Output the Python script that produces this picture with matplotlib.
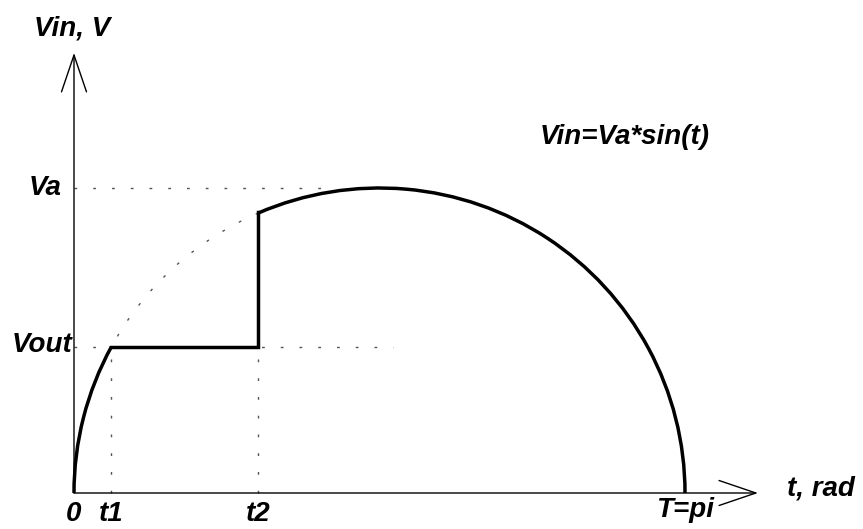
import numpy as np
import matplotlib
matplotlib.use("Agg")
import matplotlib.pyplot as plt
from matplotlib.patches import Arc

# values (t in rad, V in units of Va)
T = np.pi
t1, t2 = 0.19, 0.946
Va, Vout = 1.0, 0.48
Vt2 = 0.92                  # Vin at the moment t2
vaGuideEnd = 1.342          # where the Va guide line meets the curve
voutGuideEnd = 1.640        # end of the Vout guide line
xTip, yTip = 3.517, 1.443   # arrow tips of the axes

tickLabels = ["0", "t1", "t2", "T=pi"]
tickPos = [0.0, t1, t2, T]

font = dict(family="Liberation Sans", weight="bold", style="italic",
            size=20, color="black")
guide = dict(color="#555555", lw=1.0, dashes=(2, 11.5))
thick = 2.5

fig = plt.figure(figsize=(8.63, 5.29), dpi=100)
ax = fig.add_axes([0, 0, 1, 1])
ax.set_axis_off()

    # pixel mapping: x 74 -> 0, 685 -> pi ; y 493 -> 0, 188 -> Va
sx = T / 611.0
sy = Va / 305.0
ax.set_xlim(-74 * sx, (863 - 74) * sx)
ax.set_ylim(-36 * sy, 493 * sy)

    # axes with open arrow heads
arr = dict(arrowstyle="->,head_length=26.5,head_width=9", mutation_scale=1,
           lw=1.0, color="black", shrinkA=0, shrinkB=0)
ax.annotate("", xy=(xTip, 0), xytext=(0, 0), arrowprops=arr)
ax.annotate("", xy=(0, yTip), xytext=(0, 0), arrowprops=arr)

    # dotted guide lines
ax.plot([0, vaGuideEnd], [Va, Va], **guide)
ax.plot([0, voutGuideEnd], [Vout, Vout], **guide)
ax.plot([t1, t1], [0, Vout], **guide)
ax.plot([t2, t2], [0, Vout], **guide)

    # Vin curve (half ellipse), split at t1 and t2
th1 = np.degrees(np.arctan2(Vout, t1 - T / 2))
th2 = np.degrees(np.arctan2(Vt2, t2 - T / 2))
ax.add_patch(Arc((T / 2, 0), T, 2 * Va, theta1=0, theta2=th2,
                 lw=thick, color="black"))
ax.add_patch(Arc((T / 2, 0), T, 2 * Va, theta1=th2, theta2=th1,
                 lw=1.0, color="#555555", linestyle=(0, (2, 11.5))))
ax.add_patch(Arc((T / 2, 0), T, 2 * Va, theta1=th1, theta2=180,
                 lw=thick, color="black"))

    # Vout clamp part
ax.plot([t1, t2, t2], [Vout, Vout, Vt2], color="black", lw=thick,
        solid_joinstyle="miter")

    # labels under the time axis (T=pi sits a little higher)
for lab, x in zip(tickLabels, tickPos):
    dy = -24 if lab == "T=pi" else -28
    ax.text(x, dy * sy, lab, ha="center", va="baseline", **font)
ax.text(62 * sx - 74 * sx, Va, "Va", ha="right", va="center", **font)
ax.text(72 * sx - 74 * sx, Vout + 2 * sy, "Vout", ha="right", va="center", **font)
ax.text(72 * sx - 74 * sx, (493 - 28) * sy, "Vin, V", ha="center", va="center", **font)
ax.text((821 - 74) * sx, 5 * sy, "t, rad", ha="center", va="center", **font)
ax.text((625 - 74) * sx, (493 - 137) * sy, "Vin=Va*sin(t)", ha="center",
        va="center", **font)

fig.savefig("out.png", dpi=100)
